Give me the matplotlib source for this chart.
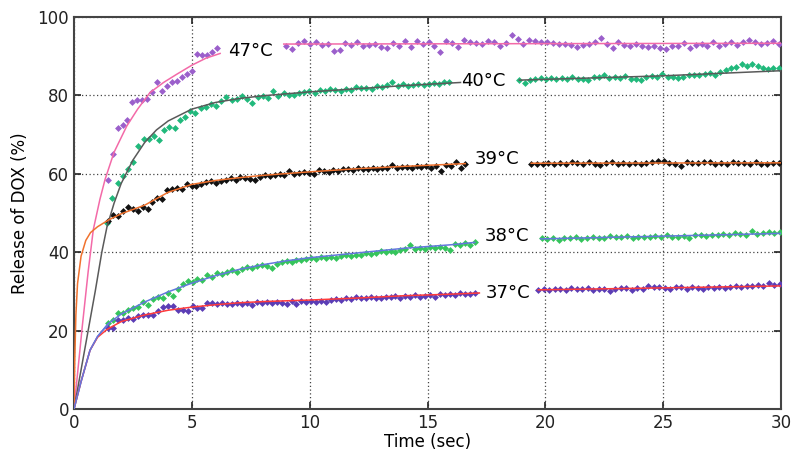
import numpy as np
import matplotlib
matplotlib.use("Agg")
import matplotlib.pyplot as plt

# measured release (%) per temperature, two recording windows each
t47_a = (1.43, 6.05)
r47_a = [58.5, 65.0, 71.6, 72.4, 73.6, 78.2, 78.9, 78.9, 79.2, 80.8, 83.5, 81.2,
         82.4, 83.3, 83.7, 84.6, 85.4, 86.3, 90.6, 90.4, 90.4, 91.2, 92.1]
t47_b = (9.0, 29.9)
r47_b = [92.6, 91.8, 93.4, 94.0, 93.1, 93.5, 92.9, 93.0, 91.4, 91.5, 93.3, 92.9,
         93.6, 92.7, 92.9, 93.0, 92.4, 92.0, 93.4, 92.6, 94.0, 92.3, 93.9, 93.2,
         93.5, 92.6, 91.1, 93.8, 93.3, 92.3, 94.2, 93.6, 93.4, 93.0, 93.8, 93.7,
         92.5, 93.3, 95.3, 94.4, 93.1, 94.1, 93.9, 93.6, 93.5, 93.4, 93.0, 93.2,
         92.8, 92.3, 92.8, 93.0, 93.6, 94.7, 93.2, 92.1, 93.6, 92.9, 92.6, 93.0,
         92.7, 92.3, 92.7, 92.0, 91.9, 92.5, 92.7, 93.4, 92.1, 92.8, 93.1, 92.6,
         93.6, 92.5, 93.0, 93.6, 92.9, 93.5, 94.2, 93.7, 93.1, 93.3, 93.9, 93.0]

t40_a = (1.41, 15.93)
r40_a = [47.5, 53.9, 57.7, 59.4, 61.1, 63.1, 67.1, 68.8, 69.0, 69.6, 68.6, 71.2,
         72.0, 71.8, 73.6, 74.5, 75.9, 75.5, 76.8, 77.0, 77.9, 77.4, 78.6, 79.5,
         78.9, 79.2, 79.8, 79.1, 78.0, 79.6, 79.9, 79.3, 81.2, 79.8, 80.5, 80.2,
         80.1, 80.6, 80.9, 81.2, 80.7, 81.4, 81.0, 81.6, 81.3, 81.2, 81.7, 81.5,
         82.1, 81.9, 82.0, 81.6, 82.3, 82.1, 82.6, 83.3, 82.3, 82.8, 82.5, 82.6,
         83.0, 82.7, 82.9, 83.1, 83.0, 83.3, 83.4]
t40_b = (18.9, 29.9)
r40_b = [83.9, 83.1, 84.0, 84.3, 84.4, 84.3, 84.5, 84.2, 84.4, 84.1, 84.6, 84.3,
         84.2, 83.9, 84.7, 84.6, 85.2, 84.5, 84.6, 84.4, 84.9, 84.1, 84.3, 84.0,
         84.6, 85.0, 84.7, 85.4, 84.8, 84.8, 84.4, 84.6, 85.1, 85.3, 85.2, 85.4,
         85.6, 85.2, 85.9, 86.4, 87.0, 87.3, 87.9, 87.6, 88.0, 87.5, 87.1, 86.8,
         86.9, 86.9]

t39_a = (1.46, 16.61)
r39_a = [47.9, 49.4, 49.2, 50.5, 51.6, 50.9, 50.6, 51.6, 50.9, 52.8, 53.9, 53.7,
         55.8, 56.2, 56.4, 56.2, 57.5, 56.9, 57.0, 57.3, 57.9, 58.2, 57.6, 58.1,
         58.5, 58.9, 58.4, 59.2, 59.0, 58.7, 58.3, 59.3, 59.6, 59.4, 59.8, 59.9,
         59.6, 60.7, 59.9, 60.1, 60.5, 60.3, 60.0, 61.0, 60.6, 60.4, 60.9, 60.7,
         61.2, 61.3, 61.0, 61.4, 61.1, 61.2, 61.6, 61.3, 61.5, 61.4, 62.3, 61.5,
         61.7, 61.8, 61.6, 62.0, 61.8, 61.9, 61.4, 61.9, 60.7, 62.2, 62.0, 63.0,
         61.6, 62.6]
t39_b = (19.4, 29.9)
r39_b = [62.6, 62.5, 62.6, 62.7, 62.5, 62.8, 62.6, 62.9, 62.7, 62.4, 63.1, 62.6,
         62.3, 62.7, 62.9, 62.5, 62.7, 62.6, 62.8, 62.5, 62.7, 62.9, 63.3, 63.2,
         62.8, 62.6, 62.0, 63.1, 62.7, 62.8, 63.0, 62.9, 62.6, 62.8, 62.5, 62.9,
         62.8, 62.7, 62.5, 62.9, 62.6, 62.4, 62.8, 62.7]

t38_a = (1.46, 17.0)
r38_a = [21.9, 22.8, 24.6, 24.6, 25.3, 25.7, 26.0, 27.2, 26.6, 28.1, 28.7, 28.3,
         29.6, 28.9, 30.6, 32.0, 32.6, 32.4, 33.1, 33.0, 34.3, 33.6, 34.7, 34.4,
         35.0, 35.4, 34.9, 35.8, 36.2, 36.0, 36.4, 36.8, 36.6, 36.0, 37.0, 37.4,
         37.7, 37.5, 38.0, 37.9, 38.3, 38.5, 38.2, 38.7, 38.4, 38.9, 38.6, 39.0,
         39.3, 39.1, 39.4, 39.2, 39.7, 39.5, 39.9, 40.2, 40.0, 40.4, 40.1, 40.6,
         40.9, 41.9, 40.8, 41.1, 40.7, 41.3, 41.0, 41.4, 41.2, 40.6, 42.0, 41.8,
         42.3, 41.9, 42.5]
t38_b = (19.85, 29.95)
r38_b = [43.6, 43.4, 43.5, 43.2, 43.6, 43.5, 43.8, 43.4, 43.6, 43.9, 43.5, 43.7,
         44.1, 43.8, 43.9, 44.2, 43.6, 43.8, 43.9, 43.8, 44.1, 43.9, 44.3, 43.8,
         44.0, 44.2, 43.7, 44.3, 44.4, 44.2, 44.5, 44.3, 44.6, 44.4, 45.0, 44.6,
         44.5, 45.3, 44.7, 44.8, 45.1, 44.9, 45.2]

t37_a = (1.46, 17.0)
r37_a = [20.6, 20.6, 22.8, 22.8, 23.2, 22.9, 23.8, 24.0, 24.0, 24.0, 25.1, 25.9,
         26.2, 26.2, 25.3, 25.3, 25.1, 26.2, 25.7, 25.7, 27.0, 27.0, 26.8, 27.0,
         26.7, 26.9, 27.1, 26.9, 27.0, 26.6, 27.2, 27.0, 27.4, 27.0, 27.3, 27.1,
         26.8, 27.5, 26.9, 27.5, 27.4, 27.6, 27.4, 27.5, 27.3, 27.7, 28.0, 27.9,
         28.4, 28.1, 28.5, 28.3, 28.2, 28.7, 28.4, 28.3, 28.6, 28.5, 28.9, 28.4,
         28.8, 28.7, 29.0, 28.6, 28.9, 29.1, 28.7, 29.3, 29.0, 29.4, 29.2, 29.6,
         29.4, 29.3, 29.6]
t37_b = (19.7, 29.95)
r37_b = [30.3, 30.5, 30.4, 30.6, 30.5, 30.4, 30.8, 30.6, 30.5, 30.9, 30.4, 30.7,
         30.6, 30.2, 30.7, 30.8, 30.9, 30.3, 30.8, 30.6, 31.4, 31.2, 31.0, 30.9,
         30.6, 31.2, 31.0, 30.7, 31.1, 30.9, 30.6, 31.2, 30.9, 31.1, 30.8, 31.2,
         31.3, 31.1, 31.4, 31.3, 31.7, 31.4, 32.2, 31.6, 31.8]

# fitted curves (knots)
fit47_t = [0.0, 0.15, 0.35, 0.6, 0.82, 1.1, 1.32, 1.7, 2.24, 2.7, 3.22, 3.8, 4.36, 5.0, 5.6, 6.2]
fit47_r = [0.0, 9.0, 21.0, 35.0, 45.8, 53.5, 58.6, 65.5, 72.2, 76.5, 80.7, 83.3, 85.4, 87.7, 89.5, 90.7]
fit47b_t = [8.9, 30.0]
fit47b_r = [93.1, 93.3]

fit40_t = [0.0, 0.3, 0.6, 0.9, 1.18, 1.4, 1.7, 2.0, 2.5, 3.0, 3.5, 4.0, 5.0, 6.0, 7.0, 8.0,
           9.0, 10.0, 12.0, 14.0, 16.4]
fit40_r = [0.0, 10.0, 20.0, 30.0, 40.0, 46.5, 52.5, 57.5, 63.5, 68.0, 71.2, 73.5, 76.5, 78.2,
           79.2, 79.9, 80.4, 80.9, 81.7, 82.5, 83.3]
fit40b_t = [18.9, 25.0, 30.0]
fit40b_r = [83.9, 85.0, 86.3]

fit39_t = [0.0, 0.03, 0.08, 0.15, 0.3, 0.5, 0.7, 1.0, 1.46, 2.0, 3.0, 4.0, 5.0, 6.0, 7.0,
           8.0, 10.0, 12.0, 14.0, 16.6]
fit39_r = [0.0, 12.0, 24.0, 32.0, 39.0, 43.0, 45.0, 46.5, 48.2, 49.8, 52.0, 55.3, 57.3,
           58.3, 59.0, 59.6, 60.5, 61.3, 61.9, 62.6]
fit39b_t = [19.4, 30.0]
fit39b_r = [62.7, 62.8]

fit38_t = [0.0, 0.3, 0.68, 1.0, 1.46, 2.0, 3.0, 4.0, 5.0, 6.0, 7.0, 8.0, 9.0, 10.0, 12.0,
           14.0, 16.0, 17.0]
fit38_r = [0.0, 7.0, 15.0, 18.5, 21.8, 24.2, 27.3, 29.9, 32.1, 34.0, 35.6, 36.8, 37.8,
           38.6, 39.8, 41.0, 41.9, 42.5]
fit38b_t = [19.8, 25.0, 30.0]
fit38b_r = [43.4, 44.1, 44.8]

fit37_t = [0.0, 0.3, 0.68, 1.0, 1.4, 2.0, 3.0, 4.0, 5.0, 6.0, 7.0, 8.0, 10.0, 12.0, 14.0,
           16.0, 17.2]
fit37_r = [0.0, 7.0, 15.0, 18.3, 20.3, 22.3, 24.0, 25.2, 26.0, 26.6, 27.1, 27.4, 27.8,
           28.3, 28.9, 29.3, 29.6]
fit37b_t = [19.7, 25.0, 30.0]
fit37b_r = [30.4, 30.9, 31.4]

labels = ["47\u00b0C", "40\u00b0C", "39\u00b0C", "38\u00b0C", "37\u00b0C"]
label_pos = [(7.5, 91.4), (17.35, 83.7), (17.95, 63.7), (18.35, 44.1), (18.4, 29.6)]

plt.rcParams["font.family"] = ["DejaVu Sans"]
fig = plt.figure(figsize=(8, 4.66), dpi=100)
ax = fig.add_axes([0.0925, 0.1223, 0.8838, 0.8412])


def pts(span, vals, color):
    x = np.linspace(span[0], span[1], len(vals))
    ax.plot(x, vals, linestyle="none", marker="D", markersize=3.5,
            color=color, markeredgewidth=0, zorder=3)


series = [
    (t47_a, r47_a, t47_b, r47_b, "#9b5fcb", fit47_t, fit47_r, fit47b_t, fit47b_r, "#f36aa8"),
    (t40_a, r40_a, t40_b, r40_b, "#21b97c", fit40_t, fit40_r, fit40b_t, fit40b_r, "#5a5a5a"),
    (t39_a, r39_a, t39_b, r39_b, "#111111", fit39_t, fit39_r, fit39b_t, fit39b_r, "#f0722e"),
    (t38_a, r38_a, t38_b, r38_b, "#35c45c", fit38_t, fit38_r, fit38b_t, fit38b_r, "#6477dd"),
    (t37_a, r37_a, t37_b, r37_b, "#5b3db5", fit37_t, fit37_r, fit37b_t, fit37b_r, "#ff3b3b"),
]

for ta, ra, tb, rb, pc, ft, fr, fbt, fbr, lc in series:
    pts(ta, ra, pc)
    pts(tb, rb, pc)
    ax.plot(ft, fr, color=lc, linewidth=1.1, zorder=4)
    ax.plot(fbt, fbr, color=lc, linewidth=1.1, zorder=4)

# blue 38 fit lies on top of the red one at the start
ax.plot(fit38_t[:5], fit38_r[:5], color="#6477dd", linewidth=1.1, zorder=5)

for lab, (x, y) in zip(labels, label_pos):
    ax.text(x, y, lab, fontsize=13, ha="center", va="center", color="black")

ax.set_xlim(0, 30)
ax.set_ylim(0, 100)
ax.set_xticks([0, 5, 10, 15, 20, 25, 30])
ax.set_yticks([0, 20, 40, 60, 80, 100])
ax.grid(True, linestyle=(0, (1, 2)), color="#444444", linewidth=0.9)
ax.tick_params(direction="in", top=True, right=True, length=5, width=1.2,
               labelsize=12, colors="#222222")
for sp in ax.spines.values():
    sp.set_color("#444444")
    sp.set_linewidth(1.5)

ax.set_xlabel("Time (sec)", fontsize=12, labelpad=1)
ax.set_ylabel("Release of DOX (%)", fontsize=12, labelpad=6)

fig.savefig("out.png", dpi=100)
